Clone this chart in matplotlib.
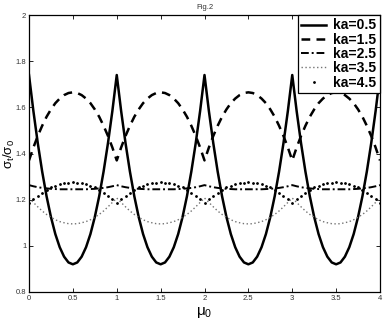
import numpy as np
import matplotlib
matplotlib.use("Agg")
import matplotlib.pyplot as plt

plt.rcParams["font.family"] = ["Liberation Sans", "DejaVu Sans"]
plt.rcParams["mathtext.fontset"] = "custom"
plt.rcParams["mathtext.rm"] = "Liberation Sans"
plt.rcParams["mathtext.it"] = "Liberation Sans"
plt.rcParams["mathtext.default"] = "regular"

# sample positions along mu_0 (step 0.05)
mu0 = np.linspace(0, 4, 81)

# values
ka05 = [1.740, 1.584, 1.445, 1.322, 1.215, 1.125, 1.051, 0.994, 0.953, 0.928,
        0.920, 0.928, 0.953, 0.994, 1.051, 1.125, 1.215, 1.322, 1.445, 1.584,
        1.740, 1.584, 1.445, 1.322, 1.215, 1.125, 1.051, 0.994, 0.953, 0.928,
        0.920, 0.928, 0.953, 0.994, 1.051, 1.125, 1.215, 1.322, 1.445, 1.584,
        1.740, 1.584, 1.445, 1.322, 1.215, 1.125, 1.051, 0.994, 0.953, 0.928,
        0.920, 0.928, 0.953, 0.994, 1.051, 1.125, 1.215, 1.322, 1.445, 1.584,
        1.740, 1.584, 1.445, 1.322, 1.215, 1.125, 1.051, 0.994, 0.953, 0.928,
        0.920, 0.928, 0.953, 0.994, 1.051, 1.125, 1.215, 1.322, 1.445, 1.584,
        1.740]

ka15 = [1.370, 1.426, 1.476, 1.520, 1.559, 1.591, 1.618, 1.638, 1.653, 1.662,
        1.665, 1.662, 1.653, 1.638, 1.618, 1.591, 1.559, 1.520, 1.476, 1.426,
        1.370, 1.426, 1.476, 1.520, 1.559, 1.591, 1.618, 1.638, 1.653, 1.662,
        1.665, 1.662, 1.653, 1.638, 1.618, 1.591, 1.559, 1.520, 1.476, 1.426,
        1.370, 1.426, 1.476, 1.520, 1.559, 1.591, 1.618, 1.638, 1.653, 1.662,
        1.665, 1.662, 1.653, 1.638, 1.618, 1.591, 1.559, 1.520, 1.476, 1.426,
        1.370, 1.426, 1.476, 1.520, 1.559, 1.591, 1.618, 1.638, 1.653, 1.662,
        1.665, 1.662, 1.653, 1.638, 1.618, 1.591, 1.559, 1.520, 1.476, 1.426,
        1.370]

ka25 = [1.263, 1.258, 1.254, 1.251, 1.249, 1.247, 1.246, 1.245, 1.245, 1.245,
        1.245, 1.245, 1.245, 1.245, 1.246, 1.247, 1.249, 1.251, 1.254, 1.258,
        1.263, 1.258, 1.254, 1.251, 1.249, 1.247, 1.246, 1.245, 1.245, 1.245,
        1.245, 1.245, 1.245, 1.245, 1.246, 1.247, 1.249, 1.251, 1.254, 1.258,
        1.263, 1.258, 1.254, 1.251, 1.249, 1.247, 1.246, 1.245, 1.245, 1.245,
        1.245, 1.245, 1.245, 1.245, 1.246, 1.247, 1.249, 1.251, 1.254, 1.258,
        1.263, 1.258, 1.254, 1.251, 1.249, 1.247, 1.246, 1.245, 1.245, 1.245,
        1.245, 1.245, 1.245, 1.245, 1.246, 1.247, 1.249, 1.251, 1.254, 1.258,
        1.263]

ka35 = [1.207, 1.188, 1.169, 1.151, 1.136, 1.124, 1.113, 1.105, 1.100, 1.096,
        1.095, 1.096, 1.100, 1.105, 1.113, 1.124, 1.136, 1.151, 1.169, 1.188,
        1.207, 1.188, 1.169, 1.151, 1.136, 1.124, 1.113, 1.105, 1.100, 1.096,
        1.095, 1.096, 1.100, 1.105, 1.113, 1.124, 1.136, 1.151, 1.169, 1.188,
        1.207, 1.188, 1.169, 1.151, 1.136, 1.124, 1.113, 1.105, 1.100, 1.096,
        1.095, 1.096, 1.100, 1.105, 1.113, 1.124, 1.136, 1.151, 1.169, 1.188,
        1.207, 1.188, 1.169, 1.151, 1.136, 1.124, 1.113, 1.105, 1.100, 1.096,
        1.095, 1.096, 1.100, 1.105, 1.113, 1.124, 1.136, 1.151, 1.169, 1.188,
        1.207]

ka45 = [1.185, 1.202, 1.217, 1.231, 1.243, 1.253, 1.261, 1.267, 1.271, 1.274,
        1.275, 1.274, 1.271, 1.267, 1.261, 1.253, 1.243, 1.231, 1.217, 1.202,
        1.185, 1.202, 1.217, 1.231, 1.243, 1.253, 1.261, 1.267, 1.271, 1.274,
        1.275, 1.274, 1.271, 1.267, 1.261, 1.253, 1.243, 1.231, 1.217, 1.202,
        1.185, 1.202, 1.217, 1.231, 1.243, 1.253, 1.261, 1.267, 1.271, 1.274,
        1.275, 1.274, 1.271, 1.267, 1.261, 1.253, 1.243, 1.231, 1.217, 1.202,
        1.185, 1.202, 1.217, 1.231, 1.243, 1.253, 1.261, 1.267, 1.271, 1.274,
        1.275, 1.274, 1.271, 1.267, 1.261, 1.253, 1.243, 1.231, 1.217, 1.202,
        1.185]

labels = ["ka=0.5", "ka=1.5", "ka=2.5", "ka=3.5", "ka=4.5"]
xticks = [0, 0.5, 1, 1.5, 2, 2.5, 3, 3.5, 4]
xticklabels = ["0", "0.5", "1", "1.5", "2", "2.5", "3", "3.5", "4"]
yticks = [0.8, 1.0, 1.2, 1.4, 1.6, 1.8, 2.0]
yticklabels = ["0.8", "1", "1.2", "1.4", "1.6", "1.8", "2"]


fig = plt.figure(figsize=(3.88, 3.22), dpi=100)
ax = fig.add_axes([29 / 388, 30 / 322, 351 / 388, 277 / 322])

ax.plot(mu0, ka05, color="black", linewidth=1.8, linestyle="-", label=labels[0])
ax.plot(mu0, ka15, color="black", linewidth=1.8, linestyle=(0, (3.5, 2.5)), label=labels[1])
ax.plot(mu0, ka25, color="black", linewidth=1.4, linestyle=(0, (4, 1.5, 1, 1.5)), label=labels[2])
ax.plot(mu0, ka35, color="0.45", linewidth=1.0, linestyle=(0, (1, 1.8)), label=labels[3])
ax.plot(mu0, ka45, color="black", linestyle="none", marker=".", markersize=2, label=labels[4])

ax.set_xlim(0, 4)
ax.set_ylim(0.8, 2.0)
ax.set_xticks(xticks)
ax.set_xticklabels(xticklabels)
ax.set_yticks(yticks)
ax.set_yticklabels(yticklabels)
ax.tick_params(direction="in", length=3, width=0.6, labelsize=5.5,
               labelcolor="0.2", top=True, right=True, pad=2)
for s in ax.spines.values():
    s.set_linewidth(0.9)

ax.set_title("Fig.2", fontsize=5.5, color="0.2", pad=4)
ax.set_xlabel(r"$\mu_0$", fontsize=11, labelpad=2)
ax.set_ylabel(r"$\sigma_t/\sigma_0$", fontsize=9.5, va="center")
ax.yaxis.set_label_coords(-0.056, 0.5)

leg = ax.legend(loc="upper right", prop={"weight": "bold", "size": 10},
                handlelength=1.8, handletextpad=0.5, labelspacing=0.02,
                borderaxespad=0.0, borderpad=0.25, fancybox=False,
                framealpha=1, edgecolor="black", markerscale=1.0)
leg.get_frame().set_linewidth(0.9)

fig.savefig("out.png", dpi=100)
